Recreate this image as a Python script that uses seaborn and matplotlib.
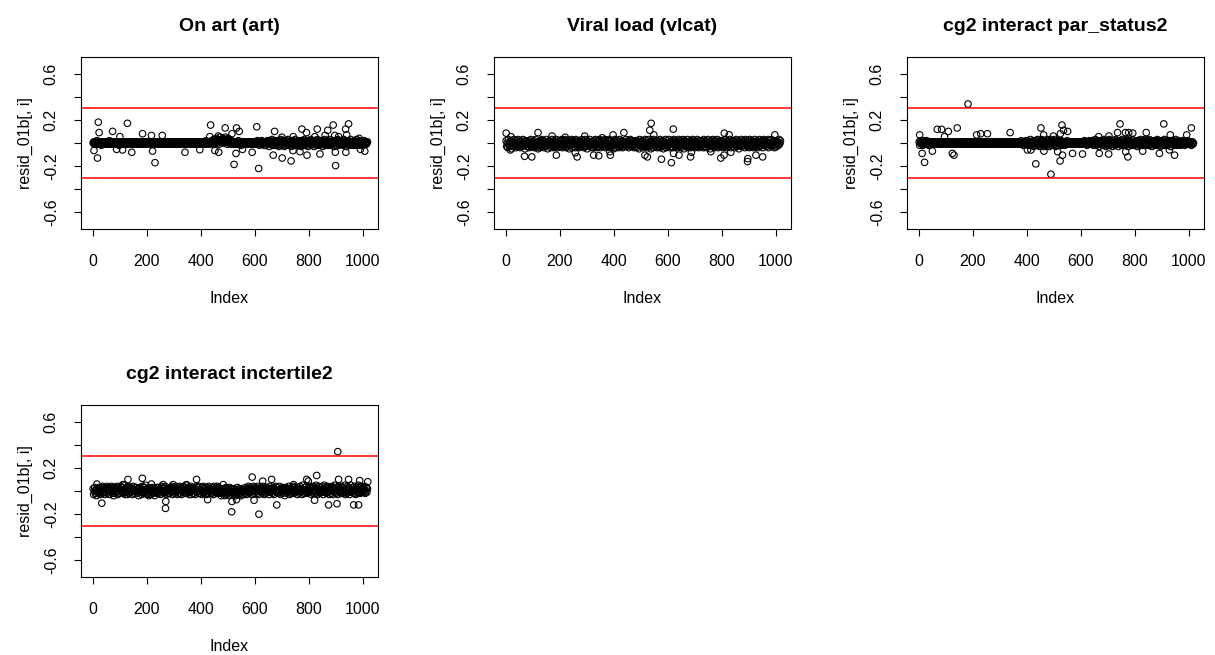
import pandas as pd
import seaborn as sns
import matplotlib.pyplot as plt

# Panel titles
titles = ["On art (art)", "Viral load (vlcat)",
          "cg2 interact par_status2", "cg2 interact inctertile2"]

art_band = [
    0, 1, -1, 0, 1, -1, 0, 2, -1, 0, 1, 0, -1, 1, 0, -2, 1, 0, -1, 1,
    0, -1, 1, 0, 1, -1, 0, 0, 1, -1, 2, 0, -1, 1, 0, -1, 0, 1, -1, 0,
    1, 0, -1, 1, 0, -1, 1, 0, -2, 1, 0, -1, 0, 1, -1, 0, 1, 0, -1, 1,
    0, -1, 0, 1, -1, 0, 1, -1, 0, 1, 0, -1, 1, 0, -1, 1, 0, -1, 0, 1,
    -1, 0, 1, 0, -1, 1, 0, -1, 0, 1, -1, 0, 1, -1, 0, 0, 1, -1, 0, 1,
    0, 1, -1, 0, 1, 0, -1, 1, 0, -1, 0, 1, -1, 0, 1, -1, 0, 1, 0, -1,
    1, -1, 0, 1, 0, -1, 1, 0, -1, 0, 1, -1, 0, 1, 0, -1, 1, -1, 0, 1,
    0, -1, 1, 0, -1, 1, 0, 0, -1, 1, 0, -1, 1, 0, -1, 0, 1, -1, 1, 0,
    -1, 0, 1, -1, 0, 1, 0, -1, 1, 0, -1, 0, 1, 0, -1, 1, -1, 0, 1, 0,
    1, 0, -1, 0, 1, -1, 0, 1, 0, -1, 1, 0, -1, 1, 0, -1, 0, 1, -1, 0,
    0, 1, -1, 0, 1, 0, -1, 1, 0, 2, -1, 0, 1, -1, 0, 1, 0, -1, 1, 0,
    2, 0, 1, 3, -1, 2, 0, 1, 4, 2, 0, 3, 1, -1, 2, 5, 1, 3, 0, 2,
    4, 1, 3, 0, 2, 5, 1, 3, -1, 2, 4, 0, 1, 3, -1, 0, 2, 1, -1, 0,
    1, -1, 0, 1, 0, -1, 1, 0, -1, 2, 0, -1, 1, 0, -2, 1, 0, -1, 1, 0,
    -1, 1, 0, -1, 1, 0, -1, 0, 1, -1, 0, 1, 0, -1, 1, 0, -1, 1, 0, -1,
    0, 1, -1, 0, 2, -1, 0, 1, -2, 0, 1, -1, 2, 0, -1, 1, 0, -2, 1, 0,
    -2, 1, 0, 2, -1, 0, -3, 1, 2, -1, 0, 3, -2, 1, 0, -1, 2, -2, 0, 1,
    2, -2, 1, 0, -3, 2, -1, 1, 3, -2, 0, 1, -1, 2, -3, 0, 1, -2, 2, 0,
    -1, 3, -2, 0, 1, -1, 2, -3, 1, 0, 2, -2, 1, -1, 3, 0, -2, 1, -1, 2,
    0, -2, 2, -1, 1, -3, 0, 2, -1, 1, -2, 3, 0, -1, 2, -2, 1, 0, -3, 2,
    1, -1, 0, 3, -2, 1, -1, 2, 0, -3, 1, 2, -1, 0, -2, 3, 1, -1, 0, 2,
    -2, 0, 2, -1, 1, -3, 2, 0, -1, 3, -2, 1, 0, -1, 2, -2, 0, 1, -1, 3,
    0, -2, 1, 2, -1, 0, -3, 1, 2, -2, 0, 1, -1, 3, 0, -2, 2, -1, 1, 0,
    2, -1, 0, -2, 3, 1, -1, 0, 2, -3, 1, 0, -1, 2, -2, 1, 0, 3, -1, -2,
    1, 0, -2, 2, -1, 0, 1, -2, 3, 0, -1, 1, -2, 2, 0, -1, 1, 0, -2, 1,
    0, -1, 2, -1, 0, 1, -1, 0, 1]
vl_band = [
    2, -3, 0, -4, 3, -1, -3, 1, -2, 2, -5, 0, 1, -3, 3, -1, -2, 0, -4, 2,
    -1, -3, 3, 0, -2, 1, -4, 2, -1, -3, 0, 3, -2, -1, 1, -5, 2, -1, -3, 0,
    1, -3, 2, -4, 0, -2, 3, -1, -3, 1, -2, 2, -4, 0, -1, 3, -3, -2, 1, -5,
    -2, 1, -4, 2, 0, -3, 3, -1, -2, 2, -4, 1, -1, -3, 3, 0, -2, -5, 1, -1,
    2, -1, -4, 1, -3, 3, -2, 0, -4, 2, -1, -3, 1, 3, -2, -4, 0, -1, 2, -3,
    -3, 2, -1, 3, -4, 0, 2, -2, -3, 1, 3, -4, -1, 2, -3, 0, 1, -5, -2, 2,
    -2, 3, -4, 1, -1, -3, 2, 0, -4, 3, -2, 1, -3, -1, 2, -4, 0, 1, -2, -3,
    3, -2, -1, 2, -4, 0, -3, 3, 1, -2, -5, 2, -1, 0, -3, 3, -2, -1, 1, -4,
    1, -4, 2, -1, -3, 3, 0, -2, -4, 1, 2, -3, -1, 3, -4, 0, -2, 2, -1, -3,
    2, -1, -3, 3, -4, 1, -2, 0, 2, -3, -1, 3, -4, 1, -2, 2, -3, 0, -1, -5,
    0, 3, -2, -4, 1, -1, 2, -3, 0, -4, 3, -2, 1, -1, -3, 2, -4, 1, 0, -2,
    1, -2, 3, -3, 0, -1, 2, -4, 1, -2, 3, -1, -3, 2, 0, -2, 1, -4, -1, 2,
    -3, 1, -4, 2, -1, 0, -5, 3, -2, 1, -3, -1, 2, -4, 0, 1, -2, 3, -3, -1,
    2, -4, 0, -2, 3, -1, -3, 1, -5, 2, 0, -2, -4, 3, -1, 1, -3, 0, 2, -4,
    -1, 2, -3, 0, -4, 3, -2, 1, -1, -3, 2, -5, 0, 1, -2, 3, -4, -1, 2, -3,
    0, -2, 3, -4, 1, -1, -3, 2, 0, -4, 1, 3, -2, -1, -3, 2, 0, -4, 1, -2,
    3, -1, -3, 2, -4, 0, 1, -2, 3, -5, -1, 2, 0, -3, 1, -2, 3, -4, -1, 0,
    -2, 2, -4, 1, -1, 3, -3, 0, -2, 2, -4, 1, -1, -3, 3, 0, -2, -4, 2, -1,
    1, -3, 2, -2, 0, -4, 3, -1, -3, 1, 2, -4, 0, -2, 3, -1, -3, 1, -5, 2,
    -1, 0, -3, 3, -2, 1, -4, 2, -1, -3, 0, 3, -2, -4, 1, -1, 2, -3, 0, -2,
    2, -4, 1, -1, -3, 3, 0, -2, -4, 2, -1, 1, -3, 0, 3, -2, -4, 1, -1, 2,
    -3, 0, 2, -4, 1, -2, 3, -1, -3, 0, 2, -5, 1, -2, -1, 3, -3, 0, -2, 2,
    1, -2, -4, 3, -1, 0, -3, 2, -2, 1, -4, 3, 0, -1, -3, 2, -2, 1, -4, 0,
    3, -1, -3, 1, -2, 2, -4, 0, -1, 3, -3, 1, -2, 0, 2, -4, -1, 3, -2, 0,
    -2, 2, -3, 1, -1, 3, -4, 0, 2, -2, -1, 3, -3, 1, 0, -2, 2, -4, 1, -1,
    2, -3, 0, 1, -2, 3, -1, 0, 2]
pst_band = [
    1, -2, 0, 2, -1, 1, 0, -2, 2, 0, -1, 1, 0, -1, 2, 0, -1, 1, -2, 0,
    0, 1, -1, 0, 1, 0, -1, 0, 1, -1, 0, 1, 0, -1, 0, 1, 0, -1, 1, 0,
    -1, 0, 1, 0, -1, 0, 1, -1, 0, 0, 1, 0, -1, 0, 1, 0, -1, 1, 0, -1,
    0, 1, 0, -1, 0, 1, -1, 0, 1, 0, -1, 0, 1, 0, -1, 0, 1, 0, -1, 1,
    1, 0, -1, 0, 1, -1, 0, 1, 0, -1, 0, 1, -1, 0, 1, 0, -1, 0, 1, 0,
    -1, 1, 0, -1, 0, 1, 0, -1, 1, 0, -1, 0, 1, 0, -1, 1, 0, -1, 0, 1,
    0, -1, 1, 0, -1, 0, 1, 0, -1, 1, 0, -1, 0, 1, -1, 0, 1, 0, -1, 0,
    1, 0, -1, 1, 0, -1, 0, 1, 0, -1, 1, 0, -1, 0, 1, 0, -1, 1, 0, -1,
    0, 1, 0, -1, 1, 0, -1, 0, 1, 0, -1, 1, 0, -1, 0, 1, -1, 0, 1, 0,
    -1, 0, 1, 0, -1, 1, 0, -1, 0, 2, -1, 0, 1, -2, 0, 1, -1, 0, 2, -1,
    0, 2, -2, 1, 0, -1, 3, -2, 0, 1, -1, 2, -3, 0, 1, -2, 2, 0, -1, 3,
    -2, 1, 0, -3, 2, -1, 1, 3, -2, 0, 2, -1, -3, 1, 0, 2, -2, 3, -1, 0,
    2, -3, 1, 0, -2, 3, -1, 0, 2, -2, 1, -1, 3, -3, 0, 1, -2, 2, 0, -1,
    1, -1, 0, 2, -2, 1, 0, -1, 1, 0, -2, 1, 0, -1, 2, 0, -1, 1, 0, -1,
    0, 1, -1, 0, 1, 0, -1, 1, 0, -1, 0, 1, -1, 0, 1, 0, -1, 0, 1, -1,
    1, 0, -1, 0, 1, -1, 2, 0, -1, 1, 0, -2, 1, 0, -1, 2, 0, -1, 1, 0,
    -1, 2, 0, -2, 1, -1, 3, 0, -2, 1, 2, -1, 0, -3, 2, 1, -1, 0, 2, -2,
    1, -2, 3, 0, -1, 2, -3, 1, 0, -2, 2, -1, 3, 0, -2, 1, -1, 2, -3, 0,
    2, -1, 0, -2, 3, 1, -1, 0, 2, -3, 1, 0, -1, 2, -2, 0, 3, -1, 1, -2,
    0, 2, -2, 1, -1, 3, 0, -3, 2, -1, 1, 0, -2, 2, -1, 3, -2, 0, 1, -1,
    -2, 1, 0, 2, -3, 1, -1, 2, 0, -2, 3, -1, 1, 0, -2, 2, -1, 0, 3, -2,
    1, -1, 2, 0, -2, 1, 3, -2, 0, -1, 2, -3, 1, 0, 2, -1, -2, 1, 0, 2,
    -1, 3, -2, 0, 1, -1, 2, -3, 0, 1, -2, 2, 0, -1, 3, -2, 1, 0, -1, 2,
    0, -2, 1, 2, -1, 0, -3, 2, 1, -1, 0, 2, -2, 1, -1, 3, 0, -2, 1, -1,
    2, 0, -1, 1, -2, 0, 1, -1, 2, 0, -1, 1, -2, 0, 1, -1, 0, 2, -1, 0,
    1, -1, 0, 1, -2, 0, 1, -1, 0]
inc_band = [
    2, -3, 0, 3, -2, 1, -4, 2, 0, -2, 3, -1, 1, -3, 2, 0, 3, -2, 4, -1,
    0, -3, 2, -1, 3, 1, -2, 4, 0, 2, -3, 3, 1, -1, 4, 0, -2, 3, -4, 1,
    3, -2, 2, -1, 4, 0, -3, 3, 1, -2, 2, 4, -1, 0, 3, -2, 5, -1, 1, -3,
    2, -1, 3, 0, -3, 2, 4, -2, 1, 3, -1, 0, 2, -3, 4, 1, -2, 0, 3, -1,
    3, 0, -2, 2, -4, 1, 3, -1, 0, 2, -3, 4, -1, 1, -2, 3, 0, 5, -2, 1,
    -3, 2, 0, -4, 3, -1, 1, -3, 2, 0, -2, 3, -1, 1, -4, 2, 0, -2, 3, -1,
    -1, 3, -2, 0, 2, -3, 1, 4, -1, 0, 3, -2, 2, -1, 4, 0, -3, 1, 2, -2,
    2, 0, -2, 3, 1, -1, 4, -3, 2, 0, 3, -2, 1, 4, -1, 2, -3, 0, 1, -2,
    4, -2, 1, 3, -3, 2, 0, 4, -1, 3, -2, 1, 5, -2, 2, 0, 3, -1, -3, 1,
    -1, 4, -3, 2, 0, 3, -2, 1, 1, -3, 2, 4, -1, 0, 3, -2, 4, 1, -2, 0,
    1, -3, 3, 0, 4, -2, 2, -1, 3, 0, -3, 3, 1, -2, 4, 0, 2, -1, -2, 1,
    -2, 3, 1, -3, 4, 0, 2, -1, 3, -2, 4, 1, -1, 3, 0, -2, 2, -4, 1, -1,
    0, -2, 2, -4, 1, -1, 3, -3, 0, 2, -2, 1, -4, 3, -1, 0, 2, -3, 1, -2,
    -1, 2, -3, 0, -4, 1, -2, 3, -1, 0, -3, 2, -2, 1, -4, 0, 2, -1, -3, 1,
    1, -2, 3, 0, -3, 2, -1, 1, 4, -2, 0, 3, -1, 2, -3, 1, 0, 4, -2, 1,
    3, -1, 2, 0, -2, 4, 1, -3, 2, 0, 3, -1, 1, -2, 4, 0, 2, -3, 1, 3,
    -2, 1, 3, -1, 0, 2, -3, 4, 1, -1, 2, 0, -2, 3, 1, -3, 2, 0, 4, -1,
    0, 3, -2, 1, -1, 4, 0, -3, 2, 1, -2, 3, 0, -1, 2, -4, 1, 3, -2, 0,
    2, -1, 4, 0, -3, 2, 1, -2, 3, -1, 0, 4, -2, 1, 3, -1, 0, 2, -3, 1,
    3, 0, -2, 4, 1, -1, 2, -3, 5, 0, 1, -2, 3, 1, -1, 4, -2, 0, 2, -1,
    1, 4, -1, 2, -3, 3, 0, -2, 4, 1, -1, 3, -2, 5, 0, 2, -3, 1, 4, -1,
    -2, 3, 1, -1, 4, 0, -3, 2, 5, -1, 1, 3, -2, 0, 4, -1, 2, -3, 3, 1,
    0, -2, 4, 1, -3, 3, 2, -1, 5, 0, -2, 3, 1, -3, 4, 2, -1, 0, 3, -2,
    4, 1, -2, 3, 0, -1, 5, -3, 2, 1, -2, 4, 0, 3, -1, -3, 2, 5, -1, 1,
    -1, 3, 0, -2, 4, 1, -3, 3, 0, 2, -2, 5, -1, 1, 3, -2, 0, 4, -1, 2,
    3, -1, 1, 4, -2, 0, 3, -1, 2]

# Scattered points outside the band: observation index and residual
art_idx = [20, 23, 73, 128, 100, 184, 217, 257, 4, 17, 88, 110, 144, 221, 230,
           341, 396, 436, 433, 464, 490, 515, 532, 542, 452, 466, 523, 530, 554,
           590, 607, 614, 673, 700, 668, 701, 734, 741, 767, 742, 774, 791, 793,
           831, 822, 841, 870, 860, 890, 896, 898, 899, 910, 936, 947, 940, 937,
           986, 991, 1007]
art_val = [0.18, 0.09, 0.10, 0.17, 0.055, 0.08, 0.065, 0.065, -0.065, -0.13,
           -0.055, -0.06, -0.08, -0.07, -0.17, -0.08, -0.058, 0.155, 0.055, 0.06,
           0.13, 0.08, 0.13, 0.10, -0.065, -0.08, -0.185, -0.09, -0.055, -0.08,
           0.14, -0.22, 0.10, 0.05, -0.105, -0.13, -0.155, -0.065, -0.075, 0.055,
           0.12, 0.09, -0.105, 0.12, 0.055, -0.095, 0.11, 0.065, 0.155, 0.065,
           -0.08, -0.195, 0.055, 0.12, 0.165, 0.07, -0.08, 0.04, -0.055, -0.07]

vl_idx = [1, 19, 16, 69, 96, 119, 171, 187, 220, 257, 264, 292, 325, 344, 357,
          387, 385, 397, 437, 515, 524, 538, 533, 548, 576, 613, 620, 621, 641,
          684, 687, 759, 796, 808, 833, 809, 827, 895, 896, 926, 951, 996]
vl_val = [0.085, 0.055, -0.06, -0.115, -0.12, 0.09, 0.06, -0.105, 0.05, -0.085,
          -0.12, 0.06, -0.105, -0.11, 0.045, -0.105, -0.075, 0.07, 0.09, -0.105,
          -0.12, 0.17, 0.11, 0.07, -0.14, -0.17, 0.12, -0.09, -0.105, -0.12,
          -0.08, -0.075, -0.13, -0.105, -0.08, 0.085, 0.07, -0.16, -0.135,
          -0.105, -0.12, 0.07]

pst_idx = [182, 3, 12, 21, 50, 68, 84, 109, 95, 142, 124, 130, 214, 229, 254,
           338, 402, 415, 433, 452, 462, 463, 489, 498, 514, 523, 532, 530, 536,
           551, 524, 569, 606, 666, 668, 703, 704, 736, 745, 765, 777, 792, 774,
           766, 842, 829, 891, 907, 931, 947, 928, 992, 1009]
pst_val = [0.337, 0.07, -0.09, -0.167, -0.07, 0.118, 0.118, 0.10, 0.055, 0.13,
           -0.09, -0.105, 0.07, 0.08, 0.08, 0.09, -0.06, -0.06, -0.18, 0.13, 0.07,
           -0.07, -0.27, 0.06, -0.075, -0.155, -0.105, 0.155, 0.11, 0.10, 0.08,
           -0.09, -0.095, 0.055, -0.09, -0.095, 0.06, 0.09, 0.165, 0.09, 0.09,
           0.085, -0.12, -0.075, 0.09, -0.07, -0.09, 0.165, 0.07, -0.105, -0.06,
           0.07, 0.13]

inc_idx = [907, 829, 590, 514, 615, 269, 270, 33, 183, 130, 15, 384, 681, 597,
           629, 662, 792, 798, 821, 873, 904, 910, 947, 988, 1018, 966, 984, 515,
           532, 483, 260, 297, 217, 111, 347, 743, 425]
inc_val = [0.34, 0.134, 0.12, -0.18, -0.20, -0.15, -0.09, -0.105, 0.11, 0.10,
           0.06, 0.10, -0.12, -0.08, 0.085, 0.10, 0.10, 0.085, -0.08, -0.12,
           -0.11, 0.10, 0.10, 0.09, 0.08, -0.12, -0.12, -0.09, -0.075, 0.055,
           0.055, 0.055, 0.06, 0.055, 0.055, 0.055, -0.075]

bands = [art_band, vl_band, pst_band, inc_band]
extras = [(art_idx, art_val), (vl_idx, vl_val), (pst_idx, pst_val), (inc_idx, inc_val)]

xticks = [0, 200, 400, 600, 800, 1000]
yticks = [-0.6, -0.4, -0.2, 0.0, 0.2, 0.4, 0.6]
ylabels = ["-0.6", "", "-0.2", "", "0.2", "", "0.6"]

sns.set_theme(style="ticks")
plt.rcParams["font.family"] = ["Liberation Sans", "DejaVu Sans"]

W, H = 1215, 655
fig = plt.figure(figsize=(W / 100, H / 100), dpi=100)

# box positions in pixels: left, top
boxes = [(81, 57), (494, 57), (907, 57), (81, 405)]
bw, bh = 297, 172

for k in range(4):
    left, top = boxes[k]
    ax = fig.add_axes([left / W, 1 - (top + bh) / H, bw / W, bh / H])
    band = bands[k]
    ex_idx, ex_val = extras[k]
    df = pd.DataFrame({
        "Index": [1 + 2 * i for i in range(len(band))] + list(ex_idx),
        "resid": [v / 100 for v in band] + list(ex_val),
    })
    sns.scatterplot(data=df, x="Index", y="resid", ax=ax, s=22,
                    facecolor="none", edgecolor="black", linewidth=0.8)
    ax.axhline(0.3, color="red", lw=1.1)
    ax.axhline(-0.3, color="red", lw=1.1)
    ax.set_xlim(-44, 1056)
    ax.set_ylim(-0.743, 0.743)
    ax.set_xticks(xticks)
    ax.set_xticklabels([str(t) for t in xticks])
    ax.set_yticks(yticks)
    ax.set_yticklabels(ylabels, rotation=90, va="center")
    ax.tick_params(axis="both", length=5, width=0.8, color="black",
                   labelsize=11.5, labelcolor="black")
    ax.tick_params(axis="x", pad=13)
    ax.tick_params(axis="y", pad=11)
    for sp in ax.spines.values():
        sp.set_visible(True)
        sp.set_color("black")
        sp.set_linewidth(0.8)
    ax.set_xlabel("Index", fontsize=11.5, labelpad=16, color="black")
    ax.set_ylabel("resid_01b[, i]", fontsize=11.5, labelpad=8, color="black")
    ax.set_title(titles[k], fontsize=14, fontweight="bold", pad=19, color="black")

fig.savefig("out.png", dpi=100)
